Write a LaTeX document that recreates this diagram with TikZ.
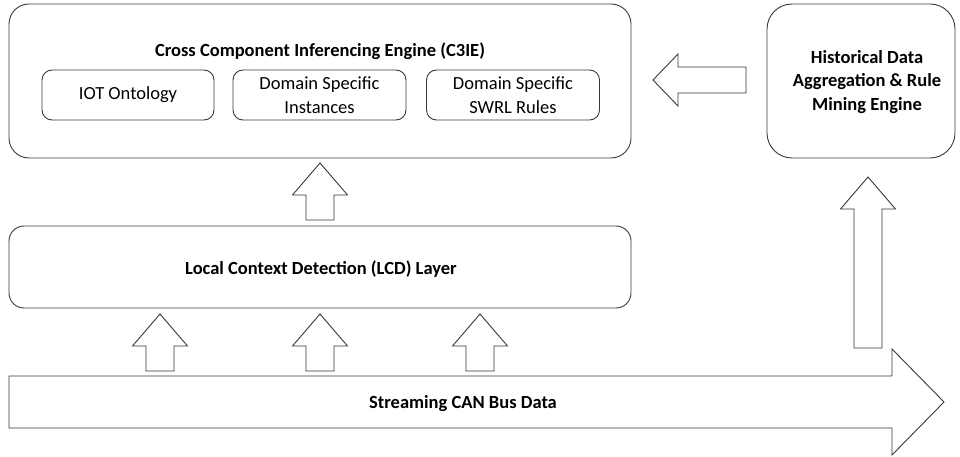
\documentclass[tikz,border=0pt]{standalone}
\usepackage{fontspec}
\setmainfont{Carlito}
\tikzset{
  ln/.style={draw=black!78, line width=0.9pt},
  panel/.style={ln, rounded corners=#1, inner sep=0pt},
  blk/.style={ln, fill=white, line join=miter},
  lbl/.style={font=\fontsize{18.5}{23.5}\selectfont, align=center, inner sep=0pt},
  blbl/.style={lbl, font=\fontsize{18.5}{23.5}\selectfont\bfseries},
}
% vertical block arrow: centre x, tip y, bottom y
\newcommand\upblock[3]{%
  \draw[blk] (#1-14,#3) -- (#1-14,#2+32) -- (#1-27.5,#2+32) -- (#1,#2)
    -- (#1+27.5,#2+32) -- (#1+14,#2+32) -- (#1+14,#3) -- cycle;}
\begin{document}
\begin{tikzpicture}[x=1pt,y=-1pt]
\useasboundingbox (0,0) rectangle (960,457);

% inferencing engine
\node[panel=20pt, minimum width=622pt, minimum height=154pt] (c3ie) at (320,81) {};
\node[blbl] (c3ietitle) at (320,51) {Cross Component Inferencing Engine (C3IE)};
\node[panel=10pt, minimum width=172pt, minimum height=50pt] (iot) at (128,95) {};
\node[lbl] (iott) at (iot) {IOT Ontology};
\node[panel=10pt, minimum width=173pt, minimum height=50pt] (dsi) at (319.5,95) {};
\node[lbl] (dsit) at (dsi) {Domain Specific\\Instances};
\node[panel=10pt, minimum width=173pt, minimum height=50pt] (swrl) at (513,95) {};
\node[lbl] (swrlt) at (swrl) {Domain Specific\\SWRL Rules};

% local context detection layer
\node[panel=15pt, minimum width=622pt, minimum height=82pt] (lcd) at (320,267) {};
\node[blbl] (lcdt) at (321,269) {Local Context Detection (LCD) Layer};

% historical data engine
\node[panel=25pt, minimum width=188pt, minimum height=154pt] (hist) at (861,81) {};
\node[blbl] (histt) at (867,82) {Historical Data\\Aggregation \& Rule\\Mining Engine};

% streaming bus arrow
\draw[blk] (9,376) -- (892,376) -- (892,349) -- (944,402) -- (892,455)
  -- (892,428) -- (9,428) -- cycle;
\node[blbl] (stream) at (463,404) {Streaming CAN Bus Data};

% block arrows between the layers
\upblock{320}{163}{220}
\upblock{160}{314}{371}
\upblock{320}{314}{371}
\upblock{480}{314}{371}
\upblock{868}{177}{348}
\draw[blk] (746,67) -- (678,67) -- (678,54) -- (653,80) -- (678,106)
  -- (678,93) -- (746,93) -- cycle;
\end{tikzpicture}
\end{document}
